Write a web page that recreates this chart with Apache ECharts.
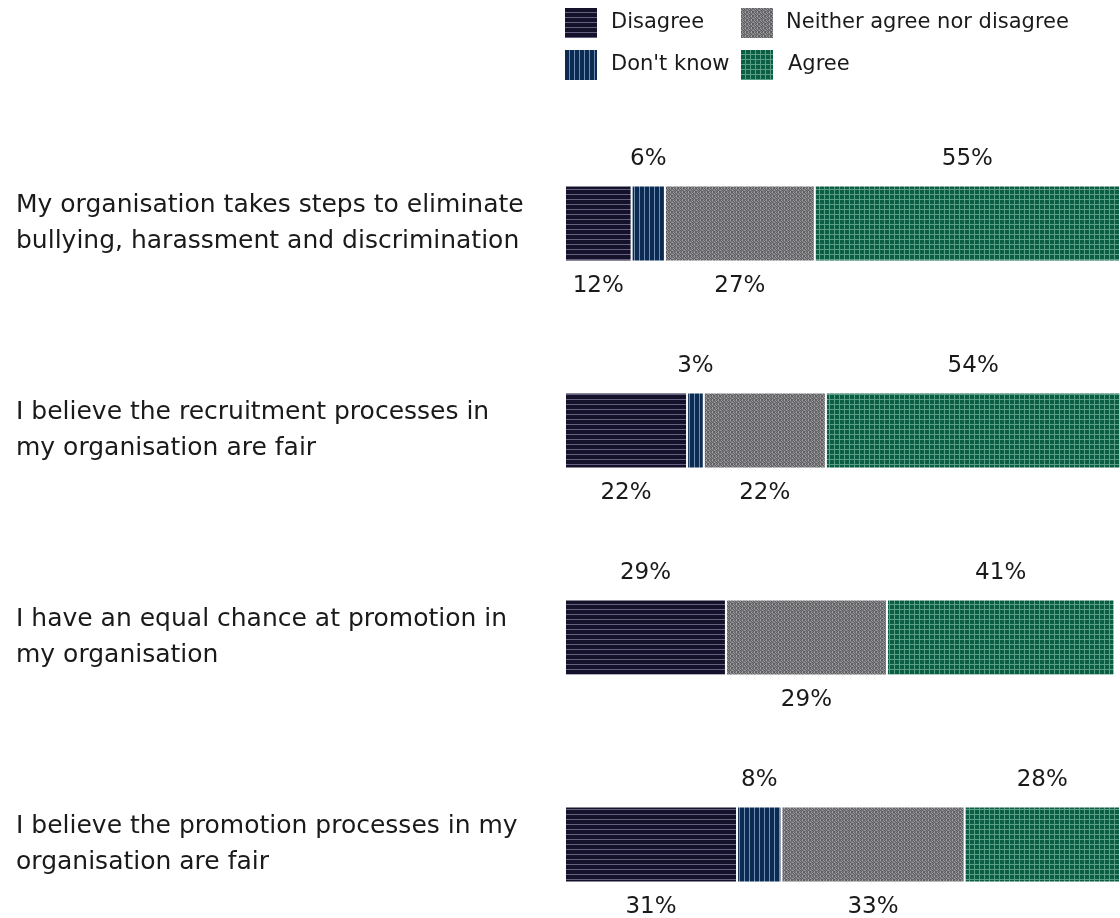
<!DOCTYPE html>
<html>
<head>
<meta charset="utf-8">
<script src="https://cdn.jsdelivr.net/npm/echarts@6/dist/echarts.min.js"></script>
<style>
  html, body { margin: 0; padding: 0; background: #fff; overflow: hidden; }
  #chart { width: 1120px; height: 948px; }
</style>
</head>
<body>
<div id="chart"></div>
<script>
const categories = [
  'My organisation takes steps to eliminate\nbullying, harassment and discrimination',
  'I believe the recruitment processes in\nmy organisation are fair',
  'I have an equal chance at promotion in\nmy organisation',
  'I believe the promotion processes in my\norganisation are fair'
];
const seriesNames = ['Disagree', "Don't know", 'Neither agree nor disagree', 'Agree'];
const disagree = [12, 22, 29, 31];
const dontKnow = [6, 3, null, 8];
const neither = [27, 22, 29, 33];
const agree = [55, 54, 41, 28];

const FONT = '"DejaVu Sans", "Noto Sans", sans-serif';
const TEXT = '#1a1a1a';

function makePattern(draw, w, h) {
  const c = document.createElement('canvas');
  c.width = w; c.height = h;
  const ctx = c.getContext('2d');
  draw(ctx, w, h);
  return { image: c, repeat: 'repeat' };
}

const patterns = [
  makePattern((ctx, w, h) => {
    ctx.fillStyle = '#14112a'; ctx.fillRect(0, 0, w, h);
    ctx.fillStyle = '#65607f'; ctx.fillRect(0, h - 1, w, 1);
  }, 4, 5),
  makePattern((ctx, w, h) => {
    ctx.fillStyle = '#0b2b52'; ctx.fillRect(0, 0, w, h);
    ctx.fillStyle = '#6e8db0'; ctx.fillRect(w - 1, 0, 1, h);
  }, 5, 4),
  makePattern((ctx, w, h) => {
    ctx.fillStyle = '#7c7c7e'; ctx.fillRect(0, 0, w, h);
    ctx.fillStyle = '#5e5e62';
    [[0,0],[1,1],[2,0],[3,1],[4,2],[5,3],[2,2],[3,3],[0,3],[5,0]].forEach(p => ctx.fillRect(p[0], p[1], 1, 1));
    ctx.fillStyle = '#a2a2a4';
    [[1,0],[4,0],[0,2],[4,3],[2,1]].forEach(p => ctx.fillRect(p[0], p[1], 1, 1));
  }, 6, 4),
  makePattern((ctx, w, h) => {
    ctx.fillStyle = '#0b5d43'; ctx.fillRect(0, 0, w, h);
    ctx.fillStyle = '#5a9f85';
    ctx.fillRect(w - 1, 0, 1, h);
    ctx.fillRect(0, h - 1, w, 1);
  }, 5, 5)
];

const values = [disagree, dontKnow, neither, agree];

// alternate labels above/below, the last segment of each row sits above
function labelPos(row, col) {
  const present = [];
  values.forEach((arr, i) => { if (arr[row] != null && arr[row] > 0) present.push(i); });
  const fromEnd = present.length - 1 - present.indexOf(col);
  return fromEnd % 2 === 0 ? 'top' : 'bottom';
}

const series = values.map((arr, col) => ({
  name: seriesNames[col],
  type: 'bar',
  stack: 'total',
  barWidth: 76,
  itemStyle: { color: patterns[col], borderColor: '#ffffff', borderWidth: 1 },
  data: arr.map((v, row) => {
    if (v == null) return { value: null };
    const pos = labelPos(row, col);
    return {
      value: v,
      label: { show: true, position: pos, distance: pos === 'top' ? 15 : 13 }
    };
  }),
  label: {
    show: true,
    formatter: '{c}%',
    fontFamily: FONT,
    fontSize: 23,
    color: TEXT
  }
}));

const legendPlaces = [
  { name: 'Disagree', left: 565, top: 8, pad: 9 },
  { name: 'Neither agree nor disagree', left: 741, top: 8, pad: 8 },
  { name: "Don't know", left: 565, top: 50, pad: 9 },
  { name: 'Agree', left: 741, top: 50, pad: 10 }
];

const chart = echarts.init(document.getElementById('chart'), null, { renderer: 'canvas' });

chart.setOption({
  animation: false,
  legend: legendPlaces.map(l => ({
    data: [l.name],
    left: l.left,
    top: l.top,
    padding: 0,
    itemWidth: 32,
    itemHeight: 30,
    icon: 'rect',
    selectedMode: false,
    itemStyle: { borderWidth: 0 },
    textStyle: { fontFamily: FONT, fontSize: 21, color: TEXT, padding: [0, 0, 0, l.pad] }
  })),
  grid: { left: 565, right: 0, top: 120, bottom: 0, containLabel: false },
  xAxis: { type: 'value', min: 0, max: 100, show: false },
  yAxis: {
    type: 'category',
    data: categories,
    inverse: true,
    axisLine: { show: false },
    axisTick: { show: false },
    axisLabel: {
      align: 'left',
      margin: 549,
      fontFamily: FONT,
      fontSize: 25,
      lineHeight: 36,
      padding: [10, 0, 0, 0],
      color: TEXT
    }
  },
  series: series
});
</script>
</body>
</html>
